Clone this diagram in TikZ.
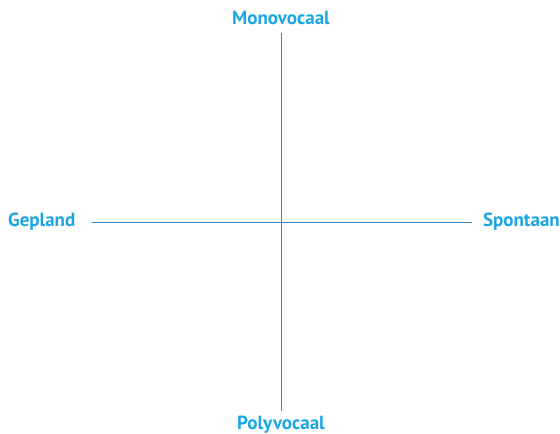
\documentclass[tikz,border=0pt]{standalone}
\usepackage{fontspec}
\setmainfont{PT Sans}
\usetikzlibrary{positioning}

\definecolor{labelblue}{HTML}{1AA6E2}
\definecolor{axisblue}{HTML}{2D8BC9}

\begin{document}
\begin{tikzpicture}[
      x=1pt, y=-1pt,
      lbl/.style={text=labelblue, font=\bfseries\fontsize{19}{22}\selectfont, inner sep=0pt},
      axis/.style={draw=axisblue, line width=0.9pt}
    ]
    \useasboundingbox (0,0) rectangle (560,434);
    \node[lbl] (mono) at (281,18)  {Monovocaal};
    \node[lbl] (poly) at (281,425) {Polyvocaal};
    \node[lbl, anchor=west] (plan) at (8,222)  {Gepland};
    \node[lbl, anchor=east] (spon) at (560,222) {Spontaan};

    \draw[axis, shorten <=8pt, shorten >=5pt] (mono.south) -- (poly.north);
    \draw[axis, shorten <=17pt, shorten >=11pt] (plan.east) -- (spon.west);
  \end{tikzpicture}
\end{document}
